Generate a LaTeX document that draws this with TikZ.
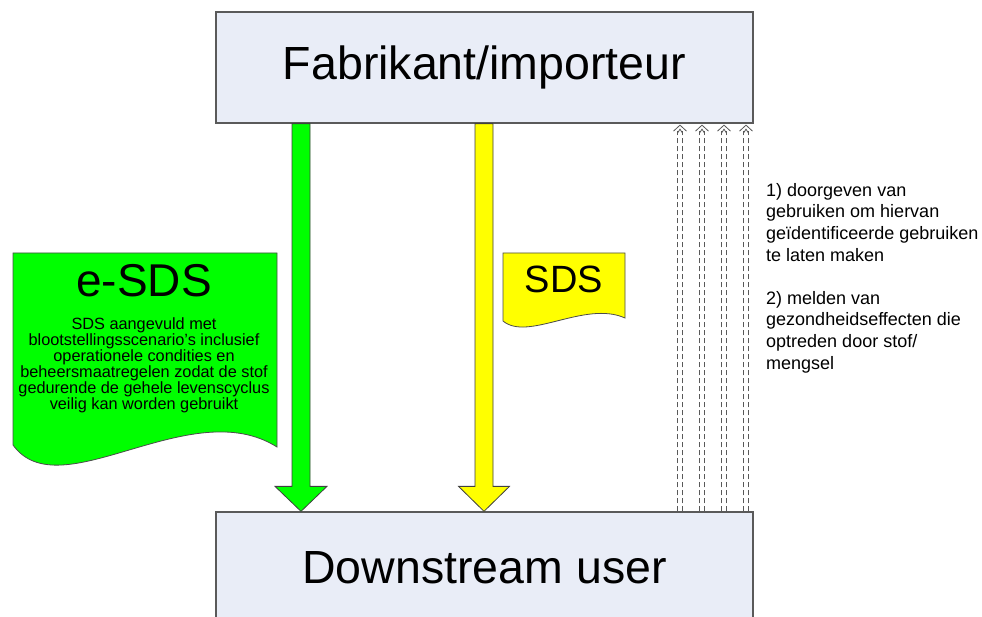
\documentclass[tikz,border=0pt]{standalone}
\usepackage{fontspec}
\setmainfont{Liberation Sans}
\usetikzlibrary{arrows.meta,calc}
\definecolor{boxfill}{RGB}{233,237,247}
\definecolor{boxline}{RGB}{90,90,90}
\definecolor{agreen}{RGB}{0,255,0}
\definecolor{ayellow}{RGB}{255,255,0}
\begin{document}
\begin{tikzpicture}[x=1pt,y=-1pt,
  bigbox/.style={draw=boxline,fill=boxfill,line width=1.3pt,inner sep=0pt,
    font=\fontsize{46.5}{50}\selectfont},
  fat/.style={draw=black!75,line width=0.8pt,line join=miter},
  dashln/.style={draw=black!65,line width=0.8pt,dash pattern=on 5pt off 3pt},
  tipln/.style={draw=black!65,line width=0.8pt},
  doc/.style={draw=black!70,line width=0.8pt},
  plain/.style={inner sep=0pt,align=center}]
\clip (0,0) rectangle (982,617);
\fill[white] (0,0) rectangle (982,617);

% boxes
\node[bigbox,minimum width=537pt,minimum height=111pt] (fab) at (484.5,67.5) {Fabrikant/importeur};
\node[bigbox,minimum width=537pt,minimum height=112pt] (du) at (484.5,568) {Downstream user};

% fat arrows
\coordinate (g0) at (301,0);
\coordinate (y0) at (484,0);
\path (g0 |- fab.south) coordinate (gt) (g0 |- du.north) coordinate (gb);
\path (y0 |- fab.south) coordinate (yt) (y0 |- du.north) coordinate (yb);
\draw[fat,fill=agreen] ($(gt)+(-9,0)$) -- ($(gt)+(9,0)$) -- ($(gb)+(9,-25)$) -- ($(gb)+(26,-25)$)
  -- (gb) -- ($(gb)+(-26,-25)$) -- ($(gb)+(-9,-25)$) -- cycle;
\draw[fat,fill=ayellow] ($(yt)+(-9,0)$) -- ($(yt)+(9,0)$) -- ($(yb)+(9,-25)$) -- ($(yb)+(25.5,-25)$)
  -- (yb) -- ($(yb)+(-25.5,-25)$) -- ($(yb)+(-9,-25)$) -- cycle;

% dashed double arrows up
\foreach \i/\xx in {1/680,2/702,3/724,4/746}{
  \coordinate (d\i) at (\xx,0);
  \path (d\i |- du.north) coordinate (db\i) (d\i |- fab.south) coordinate (dt\i);
  \draw[dashln] ($(db\i)+(-2.2,0)$) -- ($(dt\i)+(-2.2,7)$);
  \draw[dashln] ($(db\i)+(2.2,0)$) -- ($(dt\i)+(2.2,7)$);
  \draw[tipln] ($(dt\i)+(-6.5,7.5)$) -- ($(dt\i)+(0,1.5)$) -- ($(dt\i)+(6.5,7.5)$);
  \draw[tipln] ($(dt\i)+(-2.2,9)$) -- ($(dt\i)+(0,5.5)$) -- ($(dt\i)+(2.2,9)$);
}

% e-SDS document
\draw[doc,fill=agreen] (13,253) -- (277,253) -- (277,447)
  .. controls (190,392) and (60,510) .. (13,445) -- cycle;
\node[plain,font=\fontsize{46}{48}\selectfont] (esds) at (144,281) {e-SDS};
\node[plain,anchor=north,font=\fontsize{16.3}{16}\selectfont] (esdstxt) at (144,317)
  {SDS aangevuld met\\blootstellingsscenario’s inclusief\\operationele condities en\\beheersmaatregelen zodat de stof\\gedurende de gehele levenscyclus\\veilig kan worden gebruikt};

% SDS document
\draw[doc,fill=ayellow] (503,253) -- (625,253) -- (625,318)
  .. controls (585,300) and (528,342) .. (503,321) -- cycle;
\node[plain,font=\fontsize{38}{40}\selectfont] (sds) at (564,279) {SDS};

% right text
\node[plain,align=left,anchor=north west,font=\fontsize{18}{21.6}\selectfont] (rtxt) at (766,183)
  {1) doorgeven van\\gebruiken om hiervan\\geïdentificeerde gebruiken\\te laten maken\\[21.6pt]2) melden van\\gezondheidseffecten die\\optreden door stof/\\mengsel};
\end{tikzpicture}
\end{document}
